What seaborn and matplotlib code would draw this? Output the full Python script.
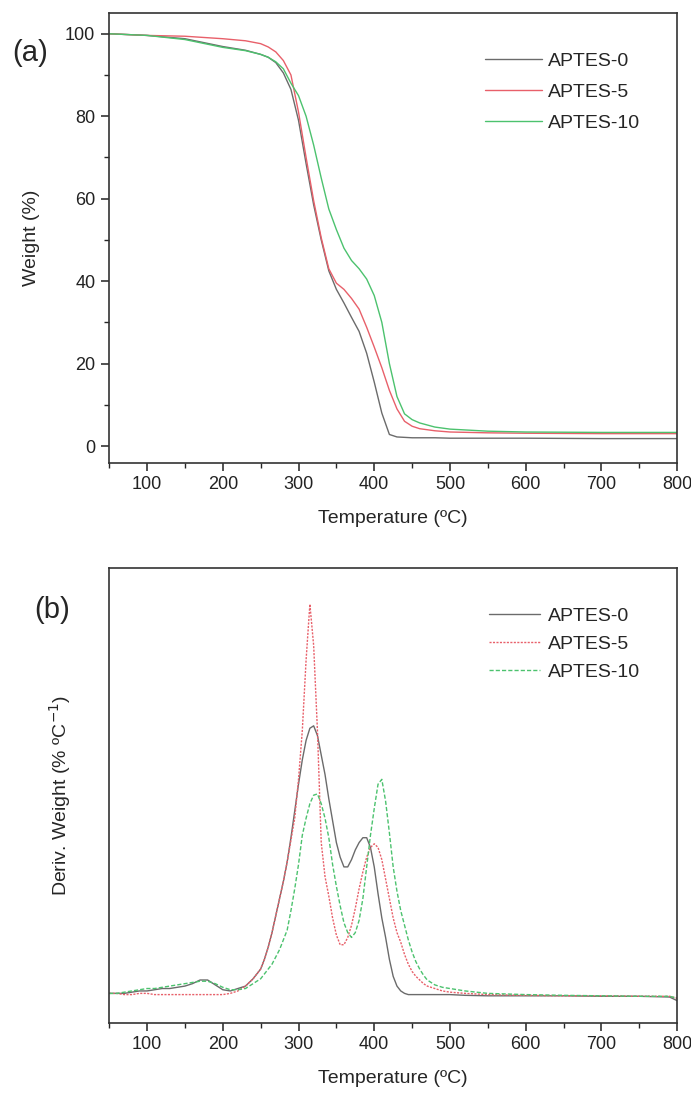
import numpy as np
import pandas as pd
import matplotlib
matplotlib.use("Agg")
import matplotlib.pyplot as plt
import seaborn as sns
from matplotlib.ticker import MultipleLocator

# ---- panel (a): TGA weight curves ----
temp_a = [50, 100, 150, 200, 230, 250, 260, 270, 280, 290, 300, 310, 320, 330, 340,
          350, 360, 370, 380, 390, 400, 410, 420, 430, 440, 450, 460, 480, 500,
          550, 600, 700, 800]
weight_0 = [100, 99.6, 98.8, 96.9, 96.0, 95.0, 94.3, 93.0, 90.5, 86.5, 79.0, 68.5, 58.5,
            50.0, 42.5, 38.0, 34.7, 31.2, 27.8, 22.5, 15.5, 8.0, 2.8, 2.2, 2.1, 2.0,
            2.0, 2.0, 1.9, 1.9, 1.9, 1.8, 1.8]
weight_5 = [100, 99.6, 99.4, 98.8, 98.3, 97.6, 96.8, 95.6, 93.5, 90.0, 81.0, 70.0, 59.5,
            50.5, 43.0, 39.5, 38.0, 35.8, 33.2, 28.8, 24.0, 19.0, 13.5, 9.0, 6.0, 4.8,
            4.2, 3.7, 3.4, 3.2, 3.1, 3.0, 3.0]
weight_10 = [100, 99.6, 98.6, 96.7, 95.9, 95.0, 94.3, 93.2, 91.5, 88.0, 85.0, 80.0, 73.0,
             65.0, 57.5, 52.5, 48.0, 45.0, 43.0, 40.5, 36.5, 30.0, 20.0, 12.0, 7.8, 6.4,
             5.6, 4.6, 4.1, 3.6, 3.4, 3.3, 3.3]

# ---- panel (b): DTG curves ----
temp_b = [50, 60, 70, 80, 90, 100, 110, 120, 130, 140, 150, 160, 170, 180, 190, 200,
          210, 220, 230, 240, 250, 255, 260, 265, 270, 275, 280, 285, 290, 295, 300,
          305, 310, 315, 320, 325, 330, 335, 340, 345, 350, 355, 360, 365, 370, 375,
          380, 385, 390, 395, 400, 405, 410, 415, 420, 425, 430, 435, 440, 445, 450,
          455, 460, 465, 470, 480, 490, 500, 520, 550, 600, 650, 700, 750, 790, 800]
deriv_0 = [0.0, 0.0, 0.0, 0.005, 0.01, 0.01, 0.015, 0.02, 0.02, 0.025, 0.03, 0.04,
           0.055, 0.055, 0.035, 0.015, 0.01, 0.02, 0.03, 0.06, 0.10, 0.14, 0.19, 0.25,
           0.32, 0.39, 0.46, 0.54, 0.64, 0.75, 0.86, 0.96, 1.04, 1.09, 1.10, 1.06, 0.98,
           0.90, 0.80, 0.71, 0.62, 0.56, 0.52, 0.52, 0.55, 0.59, 0.62, 0.64, 0.64, 0.60,
           0.52, 0.41, 0.31, 0.23, 0.14, 0.07, 0.03, 0.01, 0.0, -0.005, -0.005, -0.005,
           -0.005, -0.005, -0.005, -0.005, -0.005, -0.005, -0.008, -0.01, -0.01, -0.01,
           -0.012, -0.012, -0.015, -0.03]
deriv_5 = [0.0, 0.0, -0.005, -0.005, 0.0, 0.0, -0.005, -0.005, -0.005, -0.005, -0.005,
           -0.005, -0.005, -0.005, -0.005, -0.005, 0.0, 0.01, 0.03, 0.06, 0.10, 0.14,
           0.19, 0.25, 0.32, 0.39, 0.46, 0.54, 0.63, 0.72, 0.88, 1.08, 1.37, 1.60, 1.43,
           1.08, 0.62, 0.48, 0.40, 0.31, 0.24, 0.20, 0.20, 0.23, 0.28, 0.35, 0.43, 0.50,
           0.56, 0.60, 0.615, 0.60, 0.55, 0.47, 0.39, 0.31, 0.25, 0.21, 0.16, 0.12, 0.09,
           0.07, 0.055, 0.04, 0.03, 0.02, 0.01, 0.005, 0.0, -0.005, -0.008, -0.01, -0.01,
           -0.012, -0.012, -0.02]
deriv_10 = [0.0, 0.0, 0.005, 0.01, 0.015, 0.02, 0.02, 0.025, 0.03, 0.035, 0.04, 0.045,
            0.05, 0.05, 0.04, 0.025, 0.015, 0.015, 0.02, 0.04, 0.06, 0.08, 0.10, 0.12,
            0.15, 0.18, 0.22, 0.26, 0.34, 0.43, 0.53, 0.65, 0.72, 0.78, 0.815, 0.82,
            0.78, 0.72, 0.64, 0.53, 0.44, 0.36, 0.29, 0.25, 0.23, 0.25, 0.30, 0.39, 0.52,
            0.65, 0.76, 0.86, 0.88, 0.79, 0.66, 0.52, 0.42, 0.34, 0.28, 0.22, 0.17, 0.13,
            0.10, 0.075, 0.055, 0.035, 0.025, 0.02, 0.01, 0.0, -0.005, -0.008, -0.01,
            -0.012, -0.012, -0.02]

labels = ["APTES-0", "APTES-5", "APTES-10"]
colors = ["#6b6b6b", "#e8606a", "#4cc26e"]

tga = pd.DataFrame({
    "temp": temp_a * 3,
    "value": weight_0 + weight_5 + weight_10,
    "sample": sum([[lab] * len(temp_a) for lab in labels], []),
})
dtg = pd.DataFrame({
    "temp": temp_b * 3,
    "value": deriv_0 + deriv_5 + deriv_10,
    "sample": sum([[lab] * len(temp_b) for lab in labels], []),
})

sns.set_theme(style="ticks")
plt.rcParams["font.family"] = ["Liberation Sans", "DejaVu Sans"]
plt.rcParams["axes.linewidth"] = 1.2

fig = plt.figure(figsize=(6.91, 10.96), dpi=100)
ax_a = fig.add_axes([0.158, 0.578, 0.822, 0.410])
ax_b = fig.add_axes([0.158, 0.067, 0.822, 0.415])

palette = dict(zip(labels, colors))
sns.lineplot(data=tga, x="temp", y="value", hue="sample", palette=palette,
             linewidth=1.0, ax=ax_a, legend=False, estimator=None, sort=False)
sns.lineplot(data=dtg, x="temp", y="value", hue="sample", palette=palette,
             linewidth=1.0, ax=ax_b, legend=False, estimator=None, sort=False)

dash_b = ["-", (0, (1.5, 1.0)), (0, (3.0, 1.5))]
for line, ls in zip(ax_b.get_lines(), dash_b):
    line.set_linestyle(ls)

for ax in (ax_a, ax_b):
    ax.set_xlim(50, 800)
    ax.xaxis.set_major_locator(MultipleLocator(100))
    ax.xaxis.set_minor_locator(MultipleLocator(50))
    ax.tick_params(axis="both", which="major", direction="out", length=6, width=1.1,
                   pad=4, labelsize=13, colors="#222222", top=False, right=False)
    ax.tick_params(axis="both", which="minor", direction="out", length=3.5, width=1.0,
                   top=False, right=False)
    for sp in ax.spines.values():
        sp.set_visible(True)
        sp.set_color("#333333")
    ax.set_xlabel("Temperature (ºC)", fontsize=14, labelpad=12)
    ax.set_xticks([100, 200, 300, 400, 500, 600, 700, 800])

ax_a.set_ylim(-4, 105)
ax_a.yaxis.set_major_locator(MultipleLocator(20))
ax_a.yaxis.set_minor_locator(MultipleLocator(10))
ax_a.set_ylabel("Weight (%)", fontsize=14, labelpad=18)

ax_b.set_ylim(-0.12, 1.75)
ax_b.set_yticks([])
ax_b.yaxis.set_minor_locator(plt.NullLocator())
ax_b.set_ylabel("Deriv. Weight (% ºC$^{-1}$)", fontsize=14, labelpad=26)

handles_a = ax_a.get_lines()
ax_a.legend(handles_a, labels, loc="upper left", bbox_to_anchor=(0.645, 0.935),
            frameon=False, fontsize=14, handlelength=2.9, handletextpad=0.3,
            labelspacing=0.7, borderpad=0)
handles_b = ax_b.get_lines()
ax_b.legend(handles_b, labels, loc="upper left", bbox_to_anchor=(0.652, 0.935),
            frameon=False, fontsize=14, handlelength=2.6, handletextpad=0.4,
            labelspacing=0.55, borderpad=0)

fig.text(0.043, 0.952, "(a)", fontsize=21, ha="center", va="center")
fig.text(0.075, 0.443, "(b)", fontsize=21, ha="center", va="center")

fig.savefig("out.png", dpi=100, facecolor="white")
plt.close(fig)
